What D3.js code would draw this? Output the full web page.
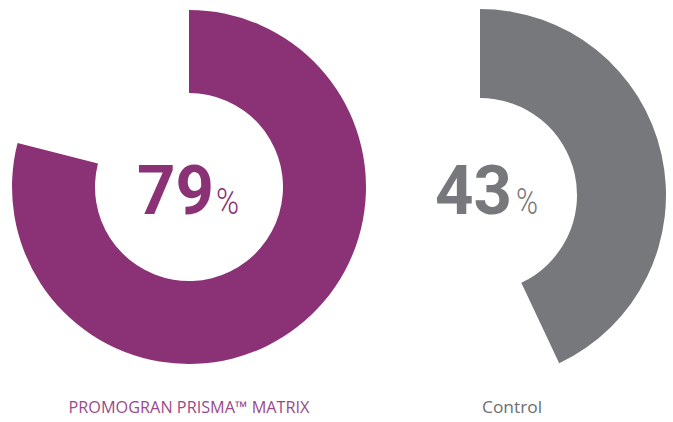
<!DOCTYPE html>
<html>
<head>
<meta charset="utf-8">
<script src="https://cdn.jsdelivr.net/npm/d3@7"></script>
<style>
  body { margin: 0; background: #fff; }
  svg { display: block; }
</style>
</head>
<body>
<svg width="673" height="422"></svg>
<script>
var labels = ["PROMOGRAN PRISMA\u2122  MATRIX", "Control"];
var values = [79, 43];
var colors = ["#8b3176", "#77787b"];
var labelColors = ["#9a4a89", "#6d6e71"];

// layout for each ring
var rings = [
  { cx: 189, cy: 187, outer: 177, inner: 94, numX: 137, numW: 77, pctX: 216, pctW: 23, labelX: 189, labelW: 241 },
  { cx: 480, cy: 195, outer: 186, inner: 97, numX: 435, numW: 77, pctX: 516, pctW: 22, labelX: 512, labelW: 60 }
];

var svg = d3.select("svg");

var angle = d3.scaleLinear().domain([0, 100]).range([0, 2 * Math.PI]);

var g = svg.selectAll(".ring")
    .data(values)
    .enter().append("g")
      .attr("class", "ring");

g.append("path")
    .attr("transform", function(d, i) { return "translate(" + rings[i].cx + "," + rings[i].cy + ")"; })
    .attr("d", function(d, i) {
      return d3.arc()
        .innerRadius(rings[i].inner)
        .outerRadius(rings[i].outer)
        .startAngle(0)
        .endAngle(angle(d))();
    })
    .attr("fill", function(d, i) { return colors[i]; });

g.append("text")
    .attr("x", function(d, i) { return rings[i].numX; })
    .attr("y", 214)
    .attr("textLength", function(d, i) { return rings[i].numW; })
    .attr("lengthAdjust", "spacingAndGlyphs")
    .style("font-family", "Roboto, 'Open Sans', sans-serif")
    .style("font-weight", "bold")
    .style("font-size", "69px")
    .attr("fill", function(d, i) { return colors[i]; })
    .text(function(d) { return d; });

g.append("text")
    .attr("x", function(d, i) { return rings[i].pctX; })
    .attr("y", 214)
    .attr("textLength", function(d, i) { return rings[i].pctW; })
    .attr("lengthAdjust", "spacingAndGlyphs")
    .style("font-family", "Roboto, 'Open Sans', sans-serif")
    .style("font-weight", "300")
    .style("font-size", "36px")
    .attr("fill", function(d, i) { return colors[i]; })
    .text("%");

g.append("text")
    .attr("x", function(d, i) { return rings[i].labelX; })
    .attr("y", 413)
    .attr("text-anchor", "middle")
    .attr("textLength", function(d, i) { return rings[i].labelW; })
    .attr("lengthAdjust", "spacingAndGlyphs")
    .style("font-family", "'Open Sans', sans-serif")
    .style("font-size", "16px")
    .attr("fill", function(d, i) { return labelColors[i]; })
    .text(function(d, i) { return labels[i]; });
</script>
</body>
</html>
